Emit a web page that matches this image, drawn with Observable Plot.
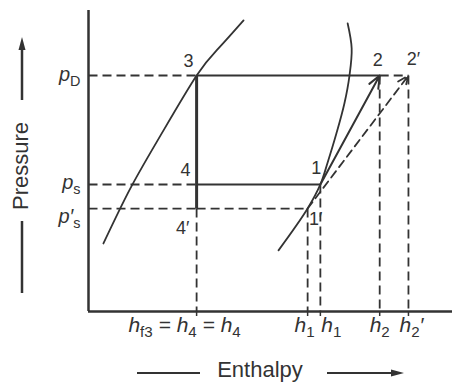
<!DOCTYPE html>
<html>
<head>
<meta charset="utf-8">
<script src="https://cdn.jsdelivr.net/npm/d3@7"></script>
<script src="https://cdn.jsdelivr.net/npm/@observablehq/plot@0.6"></script>
<style>
  html, body { margin: 0; padding: 0; background: #fff; }
  #chart { width: 454px; height: 388px; }
</style>
</head>
<body>
<div id="chart"></div>
<script>
// ---- data (arbitrary enthalpy / pressure units) ----
const enthalpyTicks  = [29.7, 60.2, 63.7, 80.0, 87.9];            // h4, h1', h1, h2, h2'
const enthalpyLabels = ["h_{f3} = h_{4} = h_{4}", "h_{1}", "h_{1}", "h_{2}", "h_{2}′"];
const pressureTicks  = [78.4, 42.2, 34.2];                         // pD, ps, ps'
const pressureLabels = ["p_{D}", "p_{s}", "p′_{s}"];

const liquidH = [4.1, 11.5, 19.8, 29.7, 35.7, 42.6];
const liquidP = [22.6, 40.9, 58.5, 78.4, 87.4, 96.7];

const vaporH = [71.2, 72.3, 71.7, 70.3, 68.1, 65.7, 63.7, 60.2, 52.2];
const vaporP = [95.7, 87.4, 78.4, 69.1, 59.1, 49.5, 42.2, 34.2, 20.3];

const stateNames = ["1", "1′", "2", "2′", "3", "4", "4′"];
const stateH     = [63.7, 60.2, 80.0, 87.9, 29.7, 29.7, 29.7];
const stateP     = [42.2, 34.2, 78.4, 78.4, 78.4, 42.2, 34.2];

// ---- derived tables ----
const S = Object.fromEntries(stateNames.map((n, i) => [n, {name: n, h: stateH[i], p: stateP[i]}]));
const seg = (a, b) => ({x1: S[a].h, y1: S[a].p, x2: S[b].h, y2: S[b].p});
const liquid = liquidH.map((h, i) => ({h, p: liquidP[i]}));
const vapor  = vaporH.map((h, i) => ({h, p: vaporP[i]}));

const ink = "#333";
const dash = "9,5";

const solidSegs  = [seg("3", "2"), seg("4", "1")];
const thickSegs  = [seg("3", "4′")];
const dashedSegs = [seg("2", "2′"), seg("4′", "1′")];
const guideH = pressureTicks.map(p => ({x1: 0, y1: p, x2: S["3"].h, y2: p}));
const guideV = ["4′", "1′", "1", "2", "2′"].map(n => ({x1: S[n].h, y1: S[n].p, x2: S[n].h, y2: 0}));

// label offsets (layout only)
const stateOffsets = {"1": [-4, -16], "1′": [8, 11], "2": [-2, -15], "2′": [5, -16], "3": [-8, -14], "4": [-11, -14], "4′": [-14, 20]};
const xLabelDx = [-12, -3, 11, 0, 3];
const yLabelDy = [-1, -2, 8];

const font = "'Liberation Sans', Arial, Helvetica, sans-serif";

const plot = Plot.plot({
  width: 454,
  height: 388,
  marginLeft: 88,
  marginRight: 2,
  marginTop: 10,
  marginBottom: 77,
  x: {domain: [0, 100], axis: null},
  y: {domain: [0, 100], axis: null},
  style: {fontFamily: font, background: "#fff", color: ink},
  marks: [
    // guides
    Plot.link(guideH, {x1: "x1", y1: "y1", x2: "x2", y2: "y2", stroke: ink, strokeWidth: 1.8, strokeDasharray: dash}),
    Plot.link(guideV, {x1: "x1", y1: "y1", x2: "x2", y2: "y2", stroke: ink, strokeWidth: 1.8, strokeDasharray: dash}),
    Plot.link(dashedSegs, {x1: "x1", y1: "y1", x2: "x2", y2: "y2", stroke: ink, strokeWidth: 1.8, strokeDasharray: dash}),
    // saturation curves
    Plot.line(liquid, {x: "h", y: "p", curve: "natural", stroke: ink, strokeWidth: 1.8}),
    Plot.line(vapor, {x: "h", y: "p", curve: "catmull-rom", stroke: ink, strokeWidth: 1.8}),
    // cycle
    Plot.link(solidSegs, {x1: "x1", y1: "y1", x2: "x2", y2: "y2", stroke: ink, strokeWidth: 2.2}),
    Plot.link(thickSegs, {x1: "x1", y1: "y1", x2: "x2", y2: "y2", stroke: ink, strokeWidth: 3}),
    Plot.arrow([seg("1", "2")], {x1: "x1", y1: "y1", x2: "x2", y2: "y2", stroke: ink, strokeWidth: 2, headLength: 10, headAngle: 45}),
    Plot.arrow([seg("1′", "2′")], {x1: "x1", y1: "y1", x2: "x2", y2: "y2", stroke: ink, strokeWidth: 1.8, strokeDasharray: "8,5", headLength: 10, headAngle: 45}),
    // axes
    Plot.ruleX([0], {stroke: ink, strokeWidth: 2.5}),
    Plot.ruleY([0], {stroke: ink, strokeWidth: 2.5}),
    Plot.axisX(enthalpyTicks, {tickSize: 5, tickFormat: () => "", label: null, stroke: ink, strokeWidth: 1.5}),
    // state labels
    ...stateNames.map(n => Plot.text([S[n]], {x: "h", y: "p", text: "name", fontSize: 18, fill: ink,
      dx: stateOffsets[n][0], dy: stateOffsets[n][1]})),
    // enthalpy tick labels
    ...enthalpyTicks.map((h, i) => Plot.text([{h, label: enthalpyLabels[i]}], {x: "h", y: () => 0, text: "label",
      fontSize: 21, fontStyle: "italic", fill: ink, dx: xLabelDx[i], dy: 14})),
    // pressure tick labels
    ...pressureTicks.map((p, i) => Plot.text([{p, label: pressureLabels[i]}], {x: () => 0, y: "p", text: "label",
      fontSize: 20, fontStyle: "italic", fill: ink, textAnchor: "end", dx: -8, dy: yLabelDy[i]}))
  ]
});

// rich text: _{sub} and ^{sup}
const NS = "http://www.w3.org/2000/svg";
plot.querySelectorAll("text").forEach(el => {
  const s = el.textContent;
  if (!/[_^]\{/.test(s)) return;
  const parts = s.match(/_\{[^}]*\}|\^\{[^}]*\}|[^_^]+/g);
  el.textContent = "";
  let shift = 0;
  for (const p of parts) {
    const t = document.createElementNS(NS, "tspan");
    let target = 0;
    if (p[0] === "_") {
      target = 5; t.setAttribute("font-size", "0.72em"); t.setAttribute("font-style", "normal"); t.textContent = p.slice(2, -1);
    } else if (p[0] === "^") {
      target = -8; t.setAttribute("font-size", "0.9em"); t.textContent = p.slice(2, -1);
    } else {
      t.textContent = p;
    }
    t.setAttribute("dy", target - shift);
    shift = target;
    el.appendChild(t);
  }
});

// axis titles with their arrow lines
const svg = d3.select(plot);
const g = svg.append("g").attr("fill", ink).attr("stroke", ink).attr("font-family", font);
g.append("text").attr("transform", "translate(28,166) rotate(-90)").attr("text-anchor", "middle")
  .attr("stroke", "none").attr("font-size", 22).text("Pressure");
g.append("line").attr("x1", 22).attr("x2", 22).attr("y1", 100).attr("y2", 46).attr("stroke-width", 2.5);
g.append("path").attr("d", "M22,37 L18.5,50 L25.5,50 Z").attr("stroke", "none");
g.append("line").attr("x1", 22).attr("x2", 22).attr("y1", 221).attr("y2", 293).attr("stroke-width", 2.5);
g.append("text").attr("x", 260).attr("y", 377).attr("text-anchor", "middle")
  .attr("stroke", "none").attr("font-size", 22).text("Enthalpy");
g.append("line").attr("x1", 137).attr("x2", 200).attr("y1", 373).attr("y2", 373).attr("stroke-width", 2);
g.append("line").attr("x1", 327).attr("x2", 394).attr("y1", 373).attr("y2", 373).attr("stroke-width", 2);
g.append("path").attr("d", "M404,373 L391,369.5 L391,376.5 Z").attr("stroke", "none");

document.getElementById("chart").appendChild(plot);
</script>
</body>
</html>
